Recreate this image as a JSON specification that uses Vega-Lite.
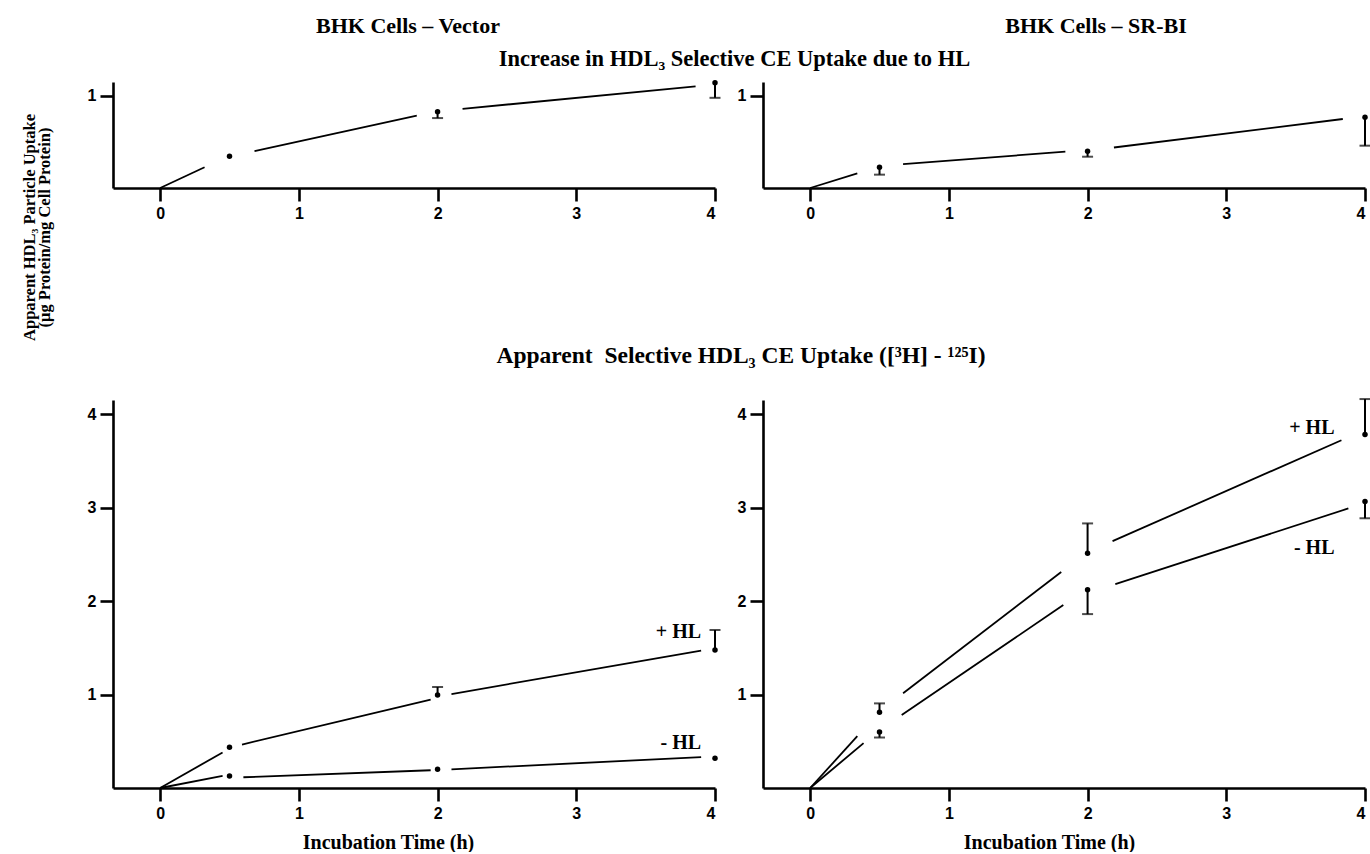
{
  "$schema": "https://vega.github.io/schema/vega-lite/v6.json",
  "background": "white",
  "padding": {"left": 21, "top": 14, "right": 0, "bottom": 0},
  "bounds": "flush",
  "spacing": 318,
  "datasets": {
    "segs": [
      {"panel": "TL", "series": "inc", "t": 0, "v": 0, "t2": 0.32, "v2": 0.225},
      {"panel": "TL", "series": "inc", "t": 0.68, "v": 0.4, "t2": 1.85, "v2": 0.786},
      {"panel": "TL", "series": "inc", "t": 2.18, "v": 0.86, "t2": 3.86, "v2": 1.105},
      {"panel": "TR", "series": "inc", "t": 0, "v": 0, "t2": 0.34, "v2": 0.16},
      {"panel": "TR", "series": "inc", "t": 0.67, "v": 0.26, "t2": 1.84, "v2": 0.395},
      {"panel": "TR", "series": "inc", "t": 2.19, "v": 0.44, "t2": 3.84, "v2": 0.75},
      {"panel": "BL", "series": "+HL", "t": 0, "v": 0, "t2": 0.45, "v2": 0.38},
      {"panel": "BL", "series": "+HL", "t": 0.59, "v": 0.465, "t2": 1.95, "v2": 0.945},
      {"panel": "BL", "series": "+HL", "t": 2.1, "v": 1.005, "t2": 3.9, "v2": 1.47},
      {"panel": "BL", "series": "-HL", "t": 0, "v": 0, "t2": 0.45, "v2": 0.13},
      {"panel": "BL", "series": "-HL", "t": 0.6, "v": 0.115, "t2": 1.95, "v2": 0.19},
      {"panel": "BL", "series": "-HL", "t": 2.1, "v": 0.2, "t2": 3.9, "v2": 0.33},
      {"panel": "BR", "series": "+HL", "t": 0, "v": 0, "t2": 0.34, "v2": 0.554},
      {"panel": "BR", "series": "+HL", "t": 0.67, "v": 1.014, "t2": 1.81, "v2": 2.31},
      {"panel": "BR", "series": "+HL", "t": 2.18, "v": 2.64, "t2": 3.83, "v2": 3.72},
      {"panel": "BR", "series": "-HL", "t": 0, "v": 0, "t2": 0.385, "v2": 0.48},
      {"panel": "BR", "series": "-HL", "t": 0.66, "v": 0.78, "t2": 1.825, "v2": 1.957},
      {"panel": "BR", "series": "-HL", "t": 2.2, "v": 2.18, "t2": 3.88, "v2": 2.99}
    ],
    "pts": [
      {"panel": "TL", "series": "inc", "t": 0.5, "v": 0.345, "e": null},
      {"panel": "TL", "series": "inc", "t": 2, "v": 0.83, "e": 0.76},
      {"panel": "TL", "series": "inc", "t": 4, "v": 1.145, "e": 0.98},
      {"panel": "TR", "series": "inc", "t": 0.5, "v": 0.225, "e": 0.145},
      {"panel": "TR", "series": "inc", "t": 2, "v": 0.4, "e": 0.34},
      {"panel": "TR", "series": "inc", "t": 4, "v": 0.77, "e": 0.46},
      {"panel": "BL", "series": "+HL", "t": 0.5, "v": 0.435, "e": null},
      {"panel": "BL", "series": "+HL", "t": 2, "v": 0.995, "e": 1.08},
      {"panel": "BL", "series": "+HL", "t": 4, "v": 1.475, "e": 1.69},
      {"panel": "BL", "series": "-HL", "t": 0.5, "v": 0.128, "e": null},
      {"panel": "BL", "series": "-HL", "t": 2, "v": 0.2, "e": null},
      {"panel": "BL", "series": "-HL", "t": 4, "v": 0.317, "e": null},
      {"panel": "BR", "series": "+HL", "t": 0.5, "v": 0.81, "e": 0.905},
      {"panel": "BR", "series": "+HL", "t": 2, "v": 2.51, "e": 2.83},
      {"panel": "BR", "series": "+HL", "t": 4, "v": 3.78, "e": 4.16},
      {"panel": "BR", "series": "-HL", "t": 0.5, "v": 0.6, "e": 0.54},
      {"panel": "BR", "series": "-HL", "t": 2, "v": 2.12, "e": 1.86},
      {"panel": "BR", "series": "-HL", "t": 4, "v": 3.065, "e": 2.885}
    ],
    "labels": [
      {"panel": "BL", "label": "+ HL", "t": 3.9, "v": 1.67},
      {"panel": "BL", "label": "- HL", "t": 3.9, "v": 0.48},
      {"panel": "BR", "label": "+ HL", "t": 3.78, "v": 3.85},
      {"panel": "BR", "label": "- HL", "t": 3.78, "v": 2.57}
    ]
  },
  "vconcat": [
    {
      "bounds": "flush",
      "spacing": 48,
      "hconcat": [
        {
          "width": 602,
          "height": 106,
          "title": {"text": "BHK Cells – Vector", "dx": -6, "offset": 42},
          "encoding": {
            "x": {"field": "t", "type": "quantitative", "scale": {"domain": [-0.34, 4], "nice": false, "zero": false}, "axis": {"values": [0, 1, 2, 3, 4], "format": "d", "title": null}},
            "y": {"field": "v", "type": "quantitative", "scale": {"domain": [0, 1.152], "nice": false}, "axis": {"values": [1], "format": "d", "title": ["Apparent HDL₃ Particle Uptake", "(μg Protein/mg Cell Protein)"], "titleAngle": -90, "titleX": -79, "titleY": 145, "titleAlign": "center", "titleBaseline": "alphabetic", "titleFontSize": 16.5, "titleLineHeight": 15}}
          },
          "layer": [
            {"data": {"name": "segs"}, "transform": [{"filter": "datum.panel === 'TL'"}], "mark": {"type": "rule", "color": "black", "strokeWidth": 1.8}, "encoding": {"x2": {"field": "t2"}, "y2": {"field": "v2"}}},
            {"data": {"name": "pts"}, "transform": [{"filter": "datum.panel === 'TL' && datum.e != null"}], "mark": {"type": "rule", "color": "black", "strokeWidth": 2}, "encoding": {"y2": {"field": "e"}}},
            {"data": {"name": "pts"}, "transform": [{"filter": "datum.panel === 'TL' && datum.e != null"}], "mark": {"type": "tick", "orient": "horizontal", "color": "black", "size": 11, "thickness": 2}, "encoding": {"y": {"field": "e", "type": "quantitative", "scale": {"domain": [0, 1.152], "nice": false}, "axis": {"values": [1], "format": "d", "title": ["Apparent HDL₃ Particle Uptake", "(μg Protein/mg Cell Protein)"], "titleAngle": -90, "titleX": -79, "titleY": 145, "titleAlign": "center", "titleBaseline": "alphabetic", "titleFontSize": 16.5, "titleLineHeight": 15}}}},
            {"data": {"name": "pts"}, "transform": [{"filter": "datum.panel === 'TL'"}], "mark": {"type": "circle", "color": "black", "opacity": 1, "size": 30}}
          ]
        },
        {
          "width": 602,
          "height": 106,
          "title": {"text": "BHK Cells – SR-BI", "dx": 32, "offset": 44},
          "encoding": {
            "x": {"field": "t", "type": "quantitative", "scale": {"domain": [-0.34, 4], "nice": false, "zero": false}, "axis": {"values": [0, 1, 2, 3, 4], "format": "d", "title": null}},
            "y": {"field": "v", "type": "quantitative", "scale": {"domain": [0, 1.152], "nice": false}, "axis": {"values": [1], "format": "d", "title": null}}
          },
          "layer": [
            {"data": {"name": "segs"}, "transform": [{"filter": "datum.panel === 'TR'"}], "mark": {"type": "rule", "color": "black", "strokeWidth": 1.8}, "encoding": {"x2": {"field": "t2"}, "y2": {"field": "v2"}}},
            {"data": {"name": "pts"}, "transform": [{"filter": "datum.panel === 'TR' && datum.e != null"}], "mark": {"type": "rule", "color": "black", "strokeWidth": 2}, "encoding": {"y2": {"field": "e"}}},
            {"data": {"name": "pts"}, "transform": [{"filter": "datum.panel === 'TR' && datum.e != null"}], "mark": {"type": "tick", "orient": "horizontal", "color": "black", "size": 11, "thickness": 2}, "encoding": {"y": {"field": "e", "type": "quantitative", "scale": {"domain": [0, 1.152], "nice": false}, "axis": {"values": [1], "format": "d", "title": null}}}},
            {"data": {"name": "pts"}, "transform": [{"filter": "datum.panel === 'TR'"}], "mark": {"type": "circle", "color": "black", "opacity": 1, "size": 30}}
          ]
        }
      ]
    },
    {
      "bounds": "flush",
      "spacing": 48,
      "hconcat": [
        {
          "width": 602,
          "height": 388,
          "title": {"text": "Apparent \u00a0Selective HDL₃ CE Uptake ([³H] - ¹²⁵I)", "dx": 327, "offset": 33, "fontSize": 23.5},
          "encoding": {
            "x": {"field": "t", "type": "quantitative", "scale": {"domain": [-0.34, 4], "nice": false, "zero": false}, "axis": {"values": [0, 1, 2, 3, 4], "format": "d", "title": "Incubation Time (h)", "titleX": 275, "titleY": 54, "titleAlign": "center", "titleBaseline": "middle"}},
            "y": {"field": "v", "type": "quantitative", "scale": {"domain": [0, 4.15], "nice": false}, "axis": {"values": [1, 2, 3, 4], "format": "d", "title": null}}
          },
          "layer": [
            {"data": {"name": "segs"}, "transform": [{"filter": "datum.panel === 'BL'"}], "mark": {"type": "rule", "color": "black", "strokeWidth": 1.8}, "encoding": {"x2": {"field": "t2"}, "y2": {"field": "v2"}}},
            {"data": {"name": "pts"}, "transform": [{"filter": "datum.panel === 'BL' && datum.e != null"}], "mark": {"type": "rule", "color": "black", "strokeWidth": 2}, "encoding": {"y2": {"field": "e"}}},
            {"data": {"name": "pts"}, "transform": [{"filter": "datum.panel === 'BL' && datum.e != null"}], "mark": {"type": "tick", "orient": "horizontal", "color": "black", "size": 11, "thickness": 2}, "encoding": {"y": {"field": "e", "type": "quantitative", "scale": {"domain": [0, 4.15], "nice": false}, "axis": {"values": [1, 2, 3, 4], "format": "d", "title": null}}}},
            {"data": {"name": "pts"}, "transform": [{"filter": "datum.panel === 'BL'"}], "mark": {"type": "circle", "color": "black", "opacity": 1, "size": 30}},
            {"data": {"name": "labels"}, "transform": [{"filter": "datum.panel === 'BL'"}], "mark": {"type": "text", "align": "right", "baseline": "middle", "font": "Liberation Serif", "fontWeight": "bold", "fontSize": 20, "color": "black"}, "encoding": {"text": {"field": "label"}}}
          ]
        },
        {
          "width": 602,
          "height": 388,
          "encoding": {
            "x": {"field": "t", "type": "quantitative", "scale": {"domain": [-0.34, 4], "nice": false, "zero": false}, "axis": {"values": [0, 1, 2, 3, 4], "format": "d", "title": "Incubation Time (h)", "titleX": 286, "titleY": 54, "titleAlign": "center", "titleBaseline": "middle"}},
            "y": {"field": "v", "type": "quantitative", "scale": {"domain": [0, 4.15], "nice": false}, "axis": {"values": [1, 2, 3, 4], "format": "d", "title": "Increase in HDL₃ Selective CE Uptake due to HL", "titleAngle": 0, "titleX": -29, "titleY": -335, "titleAlign": "center", "titleBaseline": "alphabetic", "titleFontSize": 22.5}}
          },
          "layer": [
            {"data": {"name": "segs"}, "transform": [{"filter": "datum.panel === 'BR'"}], "mark": {"type": "rule", "color": "black", "strokeWidth": 1.8}, "encoding": {"x2": {"field": "t2"}, "y2": {"field": "v2"}}},
            {"data": {"name": "pts"}, "transform": [{"filter": "datum.panel === 'BR' && datum.e != null"}], "mark": {"type": "rule", "color": "black", "strokeWidth": 2}, "encoding": {"y2": {"field": "e"}}},
            {"data": {"name": "pts"}, "transform": [{"filter": "datum.panel === 'BR' && datum.e != null"}], "mark": {"type": "tick", "orient": "horizontal", "color": "black", "size": 11, "thickness": 2}, "encoding": {"y": {"field": "e", "type": "quantitative", "scale": {"domain": [0, 4.15], "nice": false}, "axis": {"values": [1, 2, 3, 4], "format": "d", "title": "Increase in HDL₃ Selective CE Uptake due to HL", "titleAngle": 0, "titleX": -29, "titleY": -335, "titleAlign": "center", "titleBaseline": "alphabetic", "titleFontSize": 22.5}}}},
            {"data": {"name": "pts"}, "transform": [{"filter": "datum.panel === 'BR'"}], "mark": {"type": "circle", "color": "black", "opacity": 1, "size": 30}},
            {"data": {"name": "labels"}, "transform": [{"filter": "datum.panel === 'BR'"}], "mark": {"type": "text", "align": "right", "baseline": "middle", "font": "Liberation Serif", "fontWeight": "bold", "fontSize": 20, "color": "black"}, "encoding": {"text": {"field": "label"}}}
          ]
        }
      ]
    }
  ],
  "config": {
    "view": {"stroke": null},
    "axis": {
      "grid": false,
      "domainColor": "black",
      "domainWidth": 2.6,
      "tickColor": "black",
      "tickWidth": 2.6,
      "tickSize": 13,
      "labelFont": "Liberation Sans",
      "labelFontWeight": "bold",
      "labelFontSize": 16,
      "labelColor": "black",
      "labelPadding": 4,
      "titleFont": "Liberation Serif",
      "titleFontWeight": "bold",
      "titleFontSize": 20,
      "titleColor": "black"
    },
    "title": {
      "font": "Liberation Serif",
      "fontWeight": "bold",
      "fontSize": 22,
      "color": "black",
      "frame": "group",
      "anchor": "middle"
    }
  }
}
